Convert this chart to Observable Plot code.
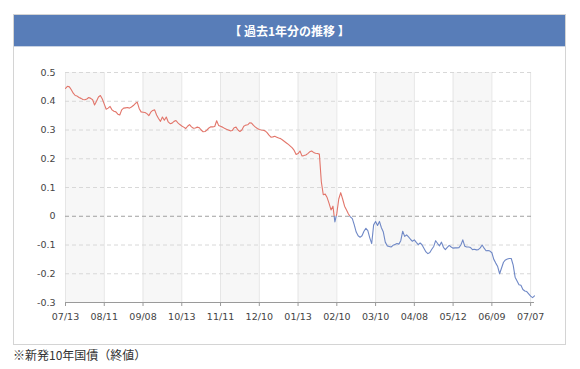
<!DOCTYPE html>
<html><head><meta charset="utf-8">
<script src="https://cdn.jsdelivr.net/npm/d3@7"></script>
<script src="https://cdn.jsdelivr.net/npm/@observablehq/plot@0.6"></script>
<style>
body{margin:0;background:#fff;font-family:"DejaVu Sans",sans-serif;}
#box{position:absolute;left:13px;top:14px;width:551px;border:1px solid #d4d4d4;background:#fff;}
#hdr{height:32px;background:#587db8;color:#fff;font:bold 12px "Noto Sans CJK JP";display:flex;align-items:center;justify-content:center;border-bottom:1px solid #c9d3e3;box-sizing:border-box;}
#chart svg{display:block;}
#cap{position:absolute;left:13px;top:346px;font:12px "Noto Sans CJK JP";color:#333;}
</style></head>
<body>
<div id="box"><div id="hdr">【 過去1年分の推移 】</div><div id="chart"></div></div>
<div id="cap">※新発10年国債（終値）</div>
<script>
const title = "【 過去1年分の推移 】";
const caption = "※新発10年国債（終値）";
const tickLabels = ["07/13","08/11","09/08","10/13","11/11","12/10","01/13","02/10","03/10","04/08","05/12","06/09","07/07"];
const tickStep = 20;
const yTicks = [0.5,0.4,0.3,0.2,0.1,0,-0.1,-0.2,-0.3];
const values = [
0.445,0.452,0.45,0.44,0.428,0.42,0.418,0.413,0.41,0.406,
0.405,0.408,0.413,0.41,0.405,0.387,0.4,0.415,0.42,0.408,
0.39,0.372,0.376,0.382,0.37,0.365,0.363,0.355,0.352,0.37,
0.376,0.377,0.378,0.376,0.38,0.385,0.392,0.397,0.375,0.363,
0.362,0.361,0.357,0.35,0.362,0.368,0.37,0.352,0.34,0.33,
0.345,0.334,0.345,0.328,0.322,0.324,0.33,0.333,0.325,0.319,
0.314,0.31,0.305,0.313,0.319,0.311,0.306,0.307,0.31,0.308,
0.3,0.294,0.295,0.3,0.307,0.311,0.311,0.312,0.332,0.316,
0.313,0.31,0.306,0.303,0.3,0.297,0.298,0.308,0.31,0.3,
0.295,0.3,0.313,0.317,0.318,0.325,0.324,0.316,0.31,0.305,
0.302,0.3,0.299,0.297,0.291,0.282,0.275,0.276,0.278,0.275,
0.272,0.27,0.265,0.26,0.255,0.25,0.244,0.238,0.229,0.215,
0.218,0.227,0.21,0.211,0.213,0.218,0.224,0.227,0.222,0.219,
0.218,0.216,0.12,0.075,0.077,0.065,0.045,0.022,0.035,-0.02,
0.01,0.06,0.082,0.06,0.035,0.022,0.008,-0.002,-0.008,-0.03,
-0.055,-0.068,-0.073,-0.068,-0.052,-0.042,-0.05,-0.075,-0.095,-0.03,
-0.018,-0.032,-0.018,-0.04,-0.055,-0.09,-0.103,-0.105,-0.107,-0.101,
-0.098,-0.095,-0.097,-0.085,-0.052,-0.07,-0.065,-0.072,-0.08,-0.087,
-0.082,-0.091,-0.099,-0.093,-0.1,-0.112,-0.124,-0.13,-0.126,-0.115,
-0.105,-0.085,-0.095,-0.103,-0.09,-0.108,-0.116,-0.108,-0.101,-0.107,
-0.111,-0.11,-0.11,-0.109,-0.1,-0.082,-0.104,-0.107,-0.107,-0.109,
-0.116,-0.115,-0.117,-0.116,-0.11,-0.1,-0.111,-0.12,-0.119,-0.121,
-0.127,-0.15,-0.163,-0.175,-0.2,-0.18,-0.16,-0.152,-0.149,-0.147,
-0.147,-0.17,-0.212,-0.225,-0.238,-0.24,-0.255,-0.26,-0.262,-0.27,
-0.278,-0.283,-0.277
];

const data = values.map((v, i) => ({i, v}));
const tickIdx = tickLabels.map((_, k) => k * tickStep);
const bands = tickIdx.filter((t, k) => k % 2 === 0 && k < tickIdx.length - 1).map(t => ({x1: t, x2: t + tickStep}));
const [vmin, vmax] = d3.extent(values);
const off = vmax / (vmax - vmin);

function gradientMark() {
  const ns = "http://www.w3.org/2000/svg";
  const defs = document.createElementNS(ns, "defs");
  const lg = document.createElementNS(ns, "linearGradient");
  lg.setAttribute("id", "signGrad");
  lg.setAttribute("x1", "0"); lg.setAttribute("y1", "0");
  lg.setAttribute("x2", "0"); lg.setAttribute("y2", "1");
  [[0, "#e2756a"], [off, "#e2756a"], [off, "#6f88c6"], [1, "#6f88c6"]].forEach(([o, c]) => {
    const s = document.createElementNS(ns, "stop");
    s.setAttribute("offset", o);
    s.setAttribute("stop-color", c);
    lg.appendChild(s);
  });
  defs.appendChild(lg);
  return defs;
}

const chart = Plot.plot({
  width: 551,
  height: 297,
  marginLeft: 51,
  marginRight: 31,
  marginTop: 25,
  marginBottom: 42,
  style: {fontSize: "9.5px", fontFamily: "DejaVu Sans, sans-serif", color: "#444", background: "transparent"},
  x: {domain: [0, values.length - 1], axis: null, label: null},
  y: {domain: [-0.3, 0.5], axis: null, label: null},
  marks: [
    gradientMark,
    Plot.rect(bands, {x1: "x1", x2: "x2", y1: -0.3, y2: 0.5, fill: "#f7f7f7"}),
    Plot.ruleX(tickIdx, {stroke: "#e6e6e6", strokeWidth: 1}),
    Plot.ruleY(yTicks.filter(d => d !== 0 && d !== -0.3), {stroke: "#d8d8d8", strokeDasharray: "4,3"}),
    Plot.ruleY([0], {stroke: "#a0a0a0", strokeDasharray: "4,3"}),
    Plot.ruleY([-0.3], {stroke: "#9a9a9a"}),
    Plot.axisX(tickIdx, {tickSize: 4, tickPadding: 7, stroke: "#9a9a9a", label: null, tickFormat: d => tickLabels[d / tickStep], fill: "#444"}),
    Plot.axisY(yTicks, {tickSize: 0, tickPadding: 10, label: null, tickFormat: d => d === 0 ? "0" : d.toFixed(1), fill: "#444"}),
    Plot.line(data, {x: "i", y: "v", stroke: "url(#signGrad)", strokeWidth: 1.1})
  ]
});
document.getElementById("chart").appendChild(chart);
</script>
</body></html>
